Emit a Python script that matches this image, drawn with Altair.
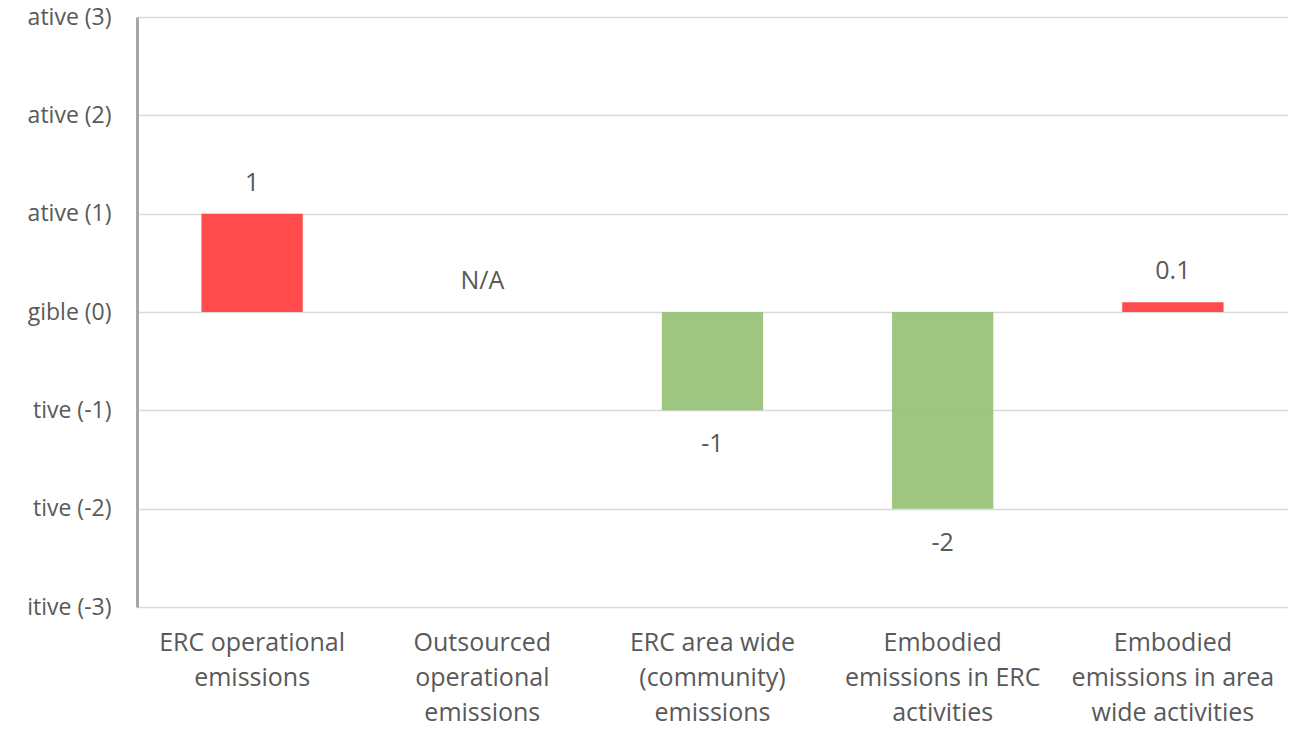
import altair as alt
import pandas as pd

categories = [
    "ERC operational|emissions",
    "Outsourced|operational|emissions",
    "ERC area wide|(community)|emissions",
    "Embodied|emissions in ERC|activities",
    "Embodied|emissions in area|wide activities",
]
values = [1, None, -1, -2, 0.1]
value_labels = ["1", "N/A", "-1", "-2", "0.1"]
y_ticks = [-3, -2, -1, 0, 1, 2, 3]
y_tick_labels = ["itive (-3)", "tive (-2)", "tive (-1)", "gible (0)", "ative (1)", "ative (2)", "ative (3)"]

df = pd.DataFrame({"cat": categories, "value": values, "label": value_labels})

label_expr = " : ".join(
    f"datum.value == {v} ? '{t}'" for v, t in zip(y_ticks, y_tick_labels)
) + " : ''"

FONT = "Open Sans"
TXT = "#595959"

base = alt.Chart(df).transform_calculate(
    pos="datum.value == null ? 0 : datum.value",
    sign="datum.pos > 0 ? 'pos' : 'neg'",
)

x_enc = alt.X(
    "cat:N",
    sort=categories,
    scale=alt.Scale(paddingInner=0.56, paddingOuter=0.28),
    axis=alt.Axis(
        title=None,
        labelExpr="split(datum.value, '|')",
        labelAngle=0,
        labelFont=FONT,
        labelFontSize=25,
        labelColor=TXT,
        labelLineHeight=35,
        labelPadding=23,
        ticks=False,
        domain=False,
        grid=False,
        labelLimit=300,
    ),
)

y_scale = alt.Scale(domain=[-3, 3], nice=False)

bars = base.mark_bar().encode(
    x=x_enc,
    y=alt.Y(
        "value:Q",
        scale=y_scale,
        axis=alt.Axis(
            title=None,
            values=y_ticks,
            labelExpr=label_expr,
            labelFont=FONT,
            labelFontSize=23,
            labelColor=TXT,
            labelPadding=26,
            ticks=False,
            domain=True,
            domainColor="#a6a6a6",
            domainWidth=3,
            gridColor="#d9d9d9",
            gridWidth=1.5,
        ),
    ),
    y2=alt.datum(0),
    color=alt.Color(
        "sign:N",
        scale=alt.Scale(domain=["pos", "neg"], range=["#ff4b4b", "#93c072"]),
        legend=None,
    ),
    opacity=alt.Opacity(
        "sign:N", scale=alt.Scale(domain=["pos", "neg"], range=[1, 0.9]), legend=None
    ),
)

text_pos = base.transform_filter("datum.pos >= 0").mark_text(
    dy=-31, font=FONT, fontSize=25, color=TXT, baseline="middle"
).encode(x=alt.X("cat:N", sort=categories), y=alt.Y("pos:Q", scale=y_scale), text="label:N")

text_neg = base.transform_filter("datum.pos < 0").mark_text(
    dy=34, font=FONT, fontSize=25, color=TXT, baseline="middle"
).encode(x=alt.X("cat:N", sort=categories), y=alt.Y("pos:Q", scale=y_scale), text="label:N")

chart = (
    alt.layer(bars, text_pos, text_neg)
    .properties(
        width=1151,
        height=590,
        autosize=alt.AutoSizeParams(type="none"),
        padding={"left": 129, "top": 9, "right": 0, "bottom": 118},
    )
    .configure_view(stroke=None)
    .configure(background="white")
)

chart.save("out.html", embed_options={"renderer": "svg", "actions": False})
